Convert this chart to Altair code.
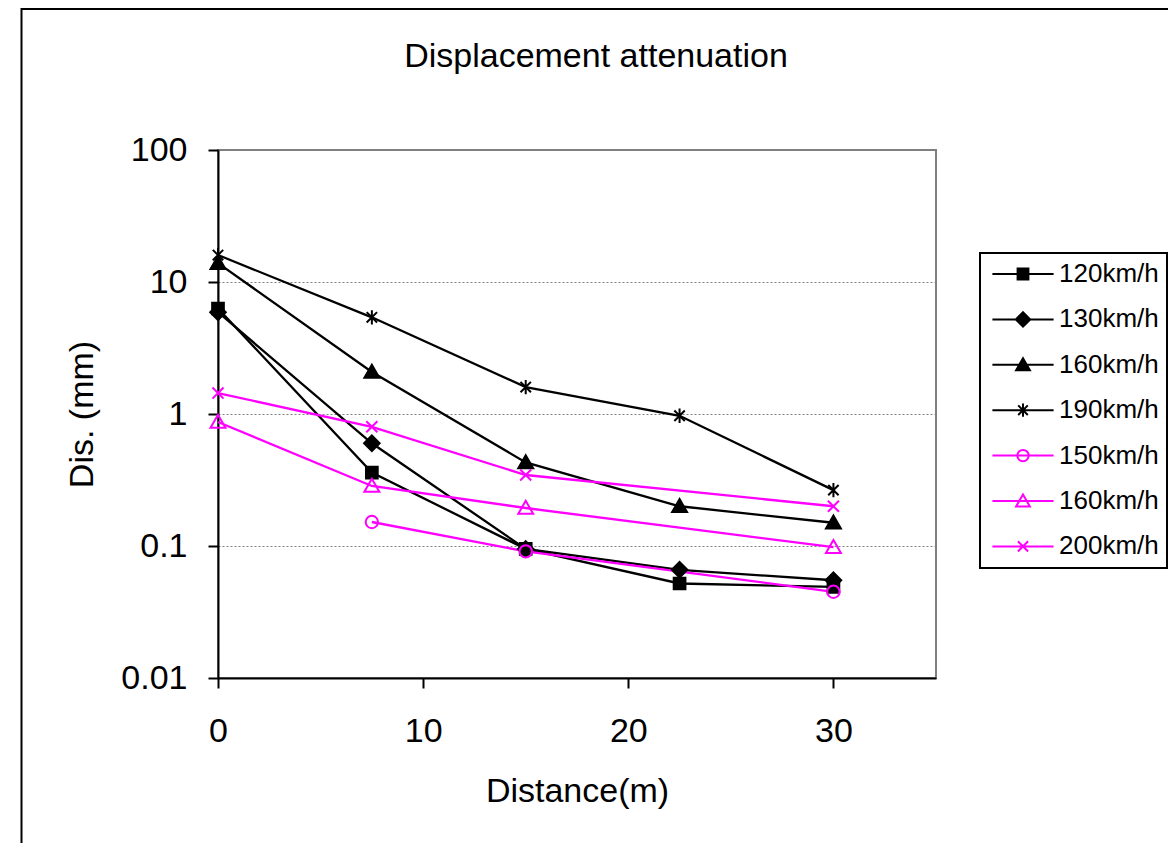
import altair as alt
import pandas as pd

# ---- data ----
distance = [0, 7.5, 15, 22.5, 30]
series_names = ["120km/h", "130km/h", "160km/h", "190km/h", "150km/h", "160km/h ", "200km/h"]
dis_120 = [6.3, 0.36, 0.095, 0.052, 0.049]
dis_130 = [5.9, 0.60, 0.095, 0.066, 0.055]
dis_160 = [13.9, 2.08, 0.43, 0.20, 0.15]
dis_190 = [16.0, 5.4, 1.6, 0.97, 0.265]
dis_150 = [None, 0.152, 0.091, None, 0.045]
dis_160p = [0.87, 0.285, 0.194, None, 0.098]
dis_200 = [1.44, 0.80, 0.345, None, 0.20]
series_values = [dis_120, dis_130, dis_160, dis_190, dis_150, dis_160p, dis_200]

# ---- styles ----
series_colors = ["#000000"] * 4 + ["#FF00FF"] * 3
series_fills = ["#000000", "#000000", "#000000", "#000000",
                "transparent", "transparent", "transparent"]
SQUARE = "M-0.9,-0.9H0.9V0.9H-0.9Z"
DIAMOND = "M0,-1.2L1.2,0L0,1.2L-1.2,0Z"
TRI = "M0,-1.1L1.15,0.9L-1.15,0.9Z"
STAR = "M-0.8,-0.8L0.8,0.8M-0.8,0.8L0.8,-0.8M0,-1.1V1.1"
CIRCLE = "M0.95,0A0.95,0.95,0,1,1,-0.95,0A0.95,0.95,0,1,1,0.95,0Z"
XMARK = "M-0.85,-0.85L0.85,0.85M-0.85,0.85L0.85,-0.85"
marker_paths = [SQUARE, DIAMOND, TRI, STAR, CIRCLE, TRI, XMARK]
legend_paths = [p + "M-5.1,0H5.1" for p in marker_paths]

rows = []
for name, vals in zip(series_names, series_values):
    for d, v in zip(distance, vals):
        if v is not None:
            rows.append({"series": name, "Series": name, "distance": d, "dis": v})
df = pd.DataFrame(rows)

FONT = "Liberation Sans"
MSIZE = 169

x_enc = alt.X(
    "distance:Q",
    scale=alt.Scale(domain=[0, 35], nice=False, zero=False),
    axis=alt.Axis(values=[0, 10, 20, 30], title="Distance(m)", grid=False,
                  titleX=359, titleY=123, titleBaseline="alphabetic",
                  labelPadding=26, labelFlush=False),
)
y_enc = alt.Y(
    "dis:Q",
    scale=alt.Scale(type="log", domain=[0.01, 100], nice=False),
    axis=alt.Axis(values=[0.01, 0.1, 1, 10, 100], format="~g", title="Dis. (mm)",
                  grid=True, gridColor="#808080", gridDash=[2, 2], gridWidth=1,
                  titleX=-126, titleY=264, titleAngle=270, titleBaseline="alphabetic",
                  labelPadding=21, labelFlush=False),
)

color_scale = alt.Scale(domain=series_names, range=series_colors)
fill_scale = alt.Scale(domain=series_names, range=series_fills)

border = alt.Chart(pd.DataFrame({"a": [0]})).mark_rect(
    fill="transparent", stroke="#000000", strokeWidth=2
).encode(x=alt.value(-196.5), x2=alt.value(1300), y=alt.value(-141), y2=alt.value(1000))

lines = alt.Chart(df).mark_line(strokeWidth=2.3).encode(
    x=x_enc, y=y_enc,
    stroke=alt.Stroke("series:N", scale=color_scale, legend=None),
    detail="series:N",
)

points = alt.Chart(df).mark_point(size=MSIZE, strokeWidth=2, opacity=1).encode(
    x="distance:Q", y="dis:Q",
    shape=alt.Shape("series:N", scale=alt.Scale(domain=series_names, range=marker_paths), legend=None),
    fill=alt.Fill("series:N", scale=fill_scale, legend=None),
    stroke=alt.Stroke("series:N", scale=color_scale, legend=None),
)

leg = alt.Legend(
    title=None, orient="none", legendX=762, legendY=103, direction="vertical",
    symbolSize=144, symbolStrokeWidth=2, symbolOpacity=1,
    symbolOffset=22, labelOffset=23,
    labelFont=FONT, labelFontSize=26, labelColor="#000000", labelLimit=0,
    padding=8, rowPadding=19.4, strokeColor="#000000", fillColor="#FFFFFF",
    symbolLimit=0,
)

legend_layer = alt.Chart(df).mark_point(size=144, strokeWidth=2, opacity=0).encode(
    x="distance:Q", y="dis:Q",
    shape=alt.Shape("Series:N", scale=alt.Scale(domain=series_names, range=legend_paths), legend=leg),
    fill=alt.Fill("Series:N", scale=alt.Scale(domain=series_names, range=series_fills), legend=leg),
    stroke=alt.Stroke("Series:N", scale=alt.Scale(domain=series_names, range=series_colors), legend=leg),
)

chart = alt.layer(border, lines, points, legend_layer).resolve_scale(
    shape="independent", fill="independent", stroke="independent"
).properties(
    width=718, height=528,
    padding={"left": 210, "top": 142, "right": 232, "bottom": 165},
    autosize=alt.AutoSizeParams(type="none"),
    background="#FFFFFF",
    title=alt.TitleParams(
        "Displacement attenuation", font=FONT, fontSize=34, fontWeight="normal",
        color="#000000", anchor="middle", frame="group", dx=19, dy=93, offset=0,
        baseline="alphabetic",
    ),
).configure_view(
    stroke="#808080", strokeWidth=2
).configure_axis(
    domainColor="#000000", domainWidth=2, tickColor="#000000", tickWidth=2, tickSize=10,
    labelFont=FONT, labelFontSize=34, labelColor="#000000",
    titleFont=FONT, titleFontSize=34, titleFontWeight="normal", titleColor="#000000",
).configure_legend(strokeWidth=2)

chart.save("out.html", embed_options={"renderer": "svg", "actions": False})
